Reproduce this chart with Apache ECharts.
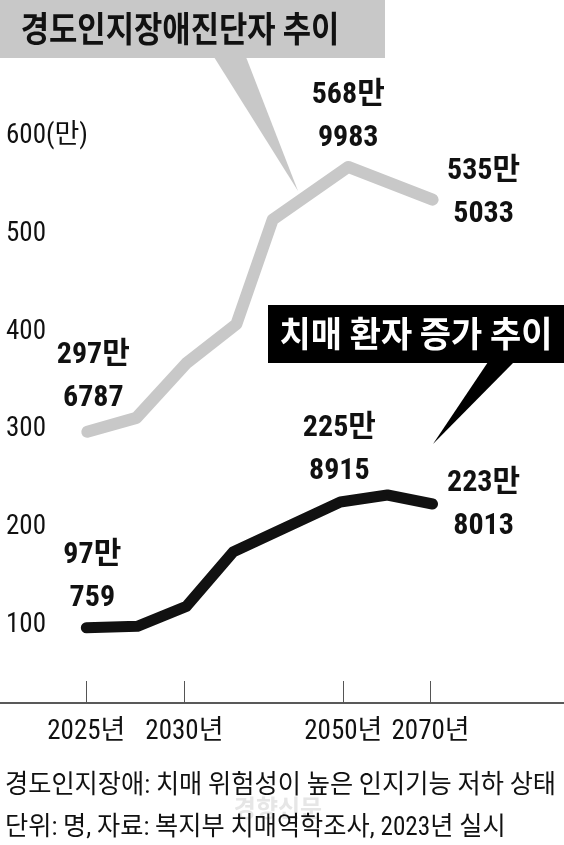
<!DOCTYPE html>
<html>
<head>
<meta charset="utf-8">
<script src="https://cdn.jsdelivr.net/npm/echarts@6/dist/echarts.min.js"></script>
<style>
html,body{margin:0;padding:0;background:#fff;}
#chart{width:564px;height:845px;}
</style>
</head>
<body>
<div id="chart"></div>
<script>
// ---- data ----
const tickLabels = ['2025년', '2030년', '2050년', '2070년'];
const tickPos = [0, 10, 26.2, 35.1];           // axis units along the (non-linear) time axis
const yTicks = [100, 200, 300, 400, 500, 600];  // 만 명

const mciX = [0.1, 5.1, 10.2, 15.3, 19, 26.7, 35.3];
const mciVal = [297.6787, 312, 368, 408, 515, 568.9983, 535.5033];   // 경도인지장애진단자 (만 명)
const mciLabeled = [0, 5, 6];

const demX = [0, 5.2, 10.2, 15, 25.9, 30.7, 35.3];
const demVal = [97.0759, 98.5, 119, 175, 225.8915, 233, 223.8013];   // 치매 환자 (만 명)
const demLabeled = [0, 4, 6];

const title1 = '경도인지장애진단자 추이';
const title2 = '치매 환자 증가 추이';
const note1 = '경도인지장애: 치매 위험성이 높은 인지기능 저하 상태';
const note2 = '단위: 명, 자료: 복지부 치매역학조사, 2023년 실시';

// ---- styling ----
const NARROW = "'Roboto Condensed','Noto Sans CJK KR',sans-serif";
const KR = "'Noto Sans CJK KR',sans-serif";

function fmt(v) {
  const man = Math.floor(v);
  const rest = Math.round((v - man) * 10000);
  return man + '만\n' + rest;
}

const mciOffsets = {0: [6, -55], 5: [0, -50], 6: [51, -7]};
const demOffsets = {0: [6, -51], 4: [-1, -52], 6: [51, 1]};

function buildData(xs, vs, labeled, offsets) {
  return xs.map((x, i) => {
    const item = {value: [x, vs[i]]};
    if (labeled.indexOf(i) >= 0) {
      item.label = {
        show: true,
        position: 'inside',
        offset: offsets[i],
        formatter: (p) => fmt(p.value[1]),
        align: 'center',
        verticalAlign: 'middle',
        fontFamily: NARROW,
        fontWeight: 'bold',
        fontSize: 30,
        lineHeight: 43,
        color: '#111'
      };
    }
    return item;
  });
}

const chart = echarts.init(document.getElementById('chart'), null, {renderer: 'canvas'});

const option = {
  animation: false,
  backgroundColor: '#fff',
  grid: {left: 0, right: 0, top: 39, height: 664, containLabel: false},
  xAxis: {
    type: 'value',
    min: -8.8,
    max: 48.7,
    splitLine: {show: false},
    axisLine: {show: true, lineStyle: {color: '#222', width: 1.5}},
    axisTick: {show: true, inside: true, length: 22, customValues: tickPos, lineStyle: {color: '#555', width: 1}},
    axisLabel: {
      show: true,
      customValues: tickPos,
      margin: 16,
      fontFamily: NARROW,
      fontSize: 27,
      color: '#111',
      formatter: (v) => {
        const i = tickPos.findIndex(t => Math.abs(t - v) < 1e-6);
        return i >= 0 ? tickLabels[i] : '';
      }
    }
  },
  yAxis: {
    type: 'value',
    min: 20,
    max: 700,
    splitLine: {show: false},
    axisLine: {show: false},
    axisTick: {show: false},
    axisLabel: {
      show: true,
      inside: true,
      margin: 6,
      customValues: yTicks,
      fontFamily: NARROW,
      fontSize: 27,
      color: '#111',
      formatter: (v) => v === 600 ? '600(만)' : String(v)
    }
  },
  series: [
    {
      name: '경도인지장애진단자',
      type: 'line',
      data: buildData(mciX, mciVal, mciLabeled, mciOffsets),
      symbol: 'circle',
      symbolSize: 1,
      showSymbol: true,
      itemStyle: {color: '#c8c8c8'},
      lineStyle: {color: '#c8c8c8', width: 12, cap: 'round', join: 'round'},
      z: 2
    },
    {
      name: '치매 환자',
      type: 'line',
      data: buildData(demX, demVal, demLabeled, demOffsets),
      symbol: 'circle',
      symbolSize: 1,
      showSymbol: true,
      itemStyle: {color: '#111'},
      lineStyle: {color: '#111', width: 11, cap: 'round', join: 'round'},
      z: 3
    }
  ],
  graphic: [
    {type: 'rect', shape: {x: 0, y: 0, width: 385, height: 58}, style: {fill: '#c8c8c8'}, z: 10},
    {type: 'polygon', shape: {points: [[214, 57], [246, 57], [298, 191]]}, style: {fill: '#c8c8c8'}, z: 10},
    {type: 'text', x: 180, y: 29, scaleX: 0.88, style: {text: title1, font: "bold 35px " + KR, fill: '#111', align: 'center', verticalAlign: 'middle'}, z: 11},

    {type: 'rect', shape: {x: 268, y: 305, width: 296, height: 58}, style: {fill: '#000'}, z: 10},
    {type: 'polygon', shape: {points: [[488, 362], [514, 362], [433, 444]]}, style: {fill: '#000'}, z: 10},
    {type: 'text', x: 416, y: 334, scaleX: 0.97, style: {text: title2, font: "bold 35px " + KR, fill: '#fff', align: 'center', verticalAlign: 'middle'}, z: 11},

    {type: 'text', x: 278, y: 808, style: {text: '경향신문', font: "bold 24px " + KR, fill: '#e6e6e6', align: 'center', verticalAlign: 'middle'}, z: 5},
    {type: 'text', x: 5, y: 786, scaleX: 0.97, style: {text: note1, font: "26px " + NARROW, fill: '#111', align: 'left', verticalAlign: 'middle'}, z: 11},
    {type: 'text', x: 5, y: 828, scaleX: 0.97, style: {text: note2, font: "26px " + NARROW, fill: '#111', align: 'left', verticalAlign: 'middle'}, z: 11}
  ]
};

chart.setOption(option);
</script>
</body>
</html>
